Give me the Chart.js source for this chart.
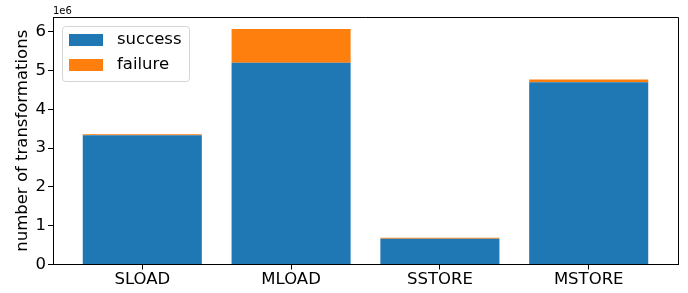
<!DOCTYPE html>
<html>
<head>
<meta charset="utf-8">
<script src="https://cdn.jsdelivr.net/npm/chart.js@4.4.0/dist/chart.umd.min.js"></script>
<style>
  html, body { margin: 0; padding: 0; background: #fff; }
  #wrap { width: 688px; height: 293px; }
</style>
</head>
<body>
<div id="wrap"><canvas id="visu" width="688" height="293"></canvas></div>
<script>
// valeurs
const categories = ['SLOAD', 'MLOAD', 'SSTORE', 'MSTORE'];
const success = [3330000, 5200000, 665000, 4700000];
const failure = [25000, 870000, 25000, 70000];
const yTicks = [0, 1, 2, 3, 4, 5, 6];

const FONT = 'DejaVu Sans';

// cadre complet (haut + droite) comme matplotlib
const spines = {
    id: 'spines',
    afterDraw(chart) {
        const { ctx, chartArea: a } = chart;
        ctx.save();
        ctx.strokeStyle = '#000';
        ctx.lineWidth = 1;
        ctx.beginPath();
        ctx.moveTo(a.left, a.top + 0.5);
        ctx.lineTo(a.right + 0.5, a.top + 0.5);
        ctx.lineTo(a.right + 0.5, a.bottom);
        ctx.stroke();
        // facteur d'echelle en haut a gauche
        ctx.fillStyle = '#000';
        ctx.font = '10px "' + FONT + '"';
        ctx.textBaseline = 'middle';
        ctx.textAlign = 'left';
        ctx.fillText('1e6', a.left, 11);
        ctx.restore();
    }
};

// legende a l'interieur du graphique
const innerLegend = {
    id: 'innerLegend',
    afterDraw(chart) {
        const ctx = chart.ctx;
        const x = 62, y = 26, w = 127, h = 55;
        ctx.save();
        ctx.fillStyle = 'rgba(255,255,255,0.8)';
        ctx.strokeStyle = '#d5d5d5';
        ctx.lineWidth = 1;
        ctx.beginPath();
        ctx.roundRect(x + 0.5, y + 0.5, w, h, 3);
        ctx.fill();
        ctx.stroke();
        ctx.font = '16.5px "' + FONT + '"';
        ctx.textBaseline = 'middle';
        chart.data.datasets.forEach((ds, i) => {
            const cy = 40 + i * 25;
            ctx.fillStyle = ds.backgroundColor;
            ctx.fillRect(69, cy - 6, 34, 12);
            ctx.fillStyle = '#000';
            ctx.fillText(ds.label, 117, cy);
        });
        ctx.restore();
    }
};

const data = {
    datasets: [
        {
            label: 'success',
            data: success.map((v, i) => ({ x: i, y: v })),
            backgroundColor: '#1f77b4'
        },
        {
            label: 'failure',
            data: failure.map((v, i) => ({ x: i, y: v })),
            backgroundColor: '#ff7f0e'
        }
    ]
};

const config = {
    type: 'bar',
    data: data,
    options: {
        responsive: false,
        animation: false,
        categoryPercentage: 1,
        barPercentage: 0.8,
        layout: { padding: { top: 17, right: 10, left: 0, bottom: 0 } },
        scales: {
            x: {
                type: 'linear',
                stacked: true,
                offset: false,
                min: -0.6,
                max: 3.6,
                afterBuildTicks: scale => { scale.ticks = categories.map((c, i) => ({ value: i })); },
                afterFit: scale => { scale.height = 28.5; },
                ticks: {
                    callback: v => categories[v],
                    color: '#000',
                    font: { family: FONT, size: 16.5 },
                    padding: 0,
                    maxRotation: 0,
                    autoSkip: false
                },
                grid: { offset: false, drawOnChartArea: false, drawTicks: true, tickLength: 5, tickColor: '#000', tickWidth: 1 },
                border: { display: true, color: '#000', width: 1 }
            },
            y: {
                stacked: true,
                min: 0,
                max: 6380000,
                afterBuildTicks: scale => { scale.ticks = yTicks.map(t => ({ value: t * 1e6 })); },
                afterFit: scale => { scale.width = 53; },
                ticks: {
                    callback: v => String(v / 1e6),
                    color: '#000',
                    font: { family: FONT, size: 16.5 },
                    padding: 2
                },
                grid: { drawOnChartArea: false, drawTicks: true, tickLength: 5, tickColor: '#000', tickWidth: 1 },
                border: { display: true, color: '#000', width: 1 },
                title: {
                    display: true,
                    text: 'number of transformations',
                    color: '#000',
                    font: { family: FONT, size: 16.5 },
                    padding: { top: 13, bottom: 0 }
                }
            }
        },
        plugins: {
            legend: { display: false },
            tooltip: { enabled: false }
        }
    },
    plugins: [spines, innerLegend]
};

const canvas = document.getElementById('visu');
new Chart(canvas.getContext('2d'), config);
</script>
</body>
</html>
